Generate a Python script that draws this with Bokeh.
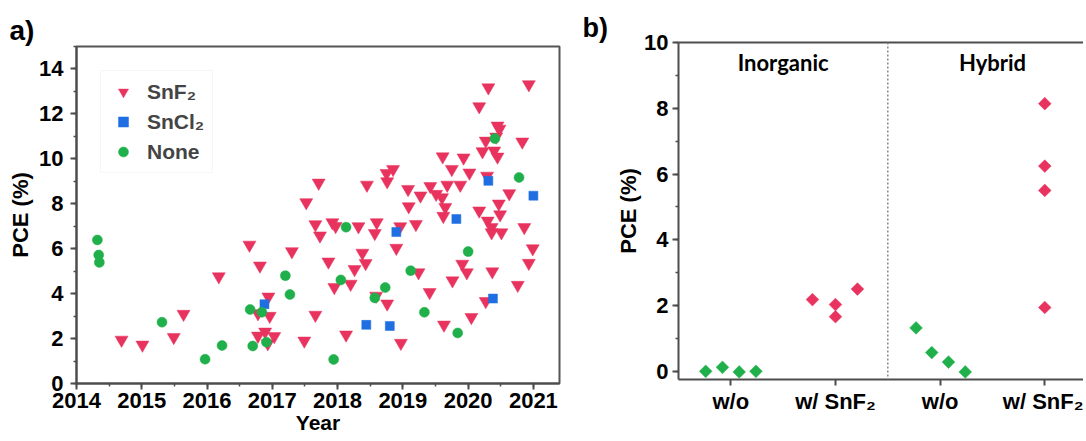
from bokeh.plotting import figure
from bokeh.layouts import row
from bokeh.models import (Range1d, SingleIntervalTicker, FixedTicker, LinearAxis,
                          Label, Span)
from bokeh.embed import file_html
from bokeh.resources import INLINE
import numpy as np

# ---------------- panel a data ----------------
snf2_year = [2014.69, 2015.01, 2015.49, 2015.64, 2016.18, 2016.65, 2016.78, 2016.78, 2016.81, 2016.89,
             2016.93, 2016.94, 2016.96, 2017.03, 2017.30, 2017.49, 2017.52, 2017.66, 2017.66, 2017.71,
             2017.73, 2017.86, 2017.92, 2017.95, 2017.97, 2018.13, 2018.20, 2018.26, 2018.32, 2018.38,
             2018.43, 2018.45, 2018.57, 2018.59, 2018.60, 2018.75, 2018.76, 2018.76, 2018.85, 2018.90,
             2018.96, 2018.97, 2019.08, 2019.09, 2019.20, 2019.24, 2019.27, 2019.41, 2019.42, 2019.51,
             2019.60, 2019.61, 2019.62, 2019.63, 2019.65, 2019.68, 2019.75, 2019.76, 2019.88, 2019.91,
             2019.93, 2019.98, 2020.02, 2020.05, 2020.17, 2020.17, 2020.22, 2020.27, 2020.27, 2020.29,
             2020.30, 2020.31, 2020.36, 2020.36, 2020.37, 2020.40, 2020.43, 2020.45, 2020.45, 2020.48,
             2020.47, 2020.49, 2020.51, 2020.63, 2020.76, 2020.83, 2020.86, 2020.93, 2020.93, 2020.99]
snf2_pce = [1.94, 1.72, 2.06, 3.09, 4.76, 6.17, 3.12, 2.12, 5.24, 2.30,
            1.78, 3.86, 3.00, 2.10, 5.88, 1.90, 8.06, 3.05, 7.08, 8.93,
            6.58, 5.42, 7.17, 4.28, 7.00, 2.17, 4.43, 5.08, 6.99, 5.81,
            5.35, 8.84, 6.69, 3.90, 7.17, 9.36, 8.99, 3.55, 9.54, 6.03,
            6.99, 1.80, 8.65, 7.88, 7.09, 4.94, 8.36, 4.06, 8.78, 8.43,
            8.28, 10.10, 7.45, 2.61, 7.85, 8.84, 9.54, 4.58, 8.84, 5.32,
            10.05, 4.94, 9.38, 2.95, 12.33, 7.69, 10.33, 3.66, 10.80, 9.24,
            7.24, 13.17, 6.95, 6.72, 4.98, 10.36, 10.98, 10.09, 11.47, 11.33,
            8.00, 7.52, 6.72, 8.46, 4.38, 10.76, 6.95, 5.36, 13.31, 6.01]

sncl2_year = [2016.88, 2018.44, 2018.80, 2018.90, 2019.82, 2020.31, 2020.38, 2021.00]
sncl2_pce = [3.53, 2.61, 2.56, 6.74, 7.32, 9.02, 3.78, 8.36]

none_year = [2014.32, 2014.34, 2014.35, 2015.31, 2015.97, 2016.23, 2016.66, 2016.70, 2016.84, 2016.91,
             2017.20, 2017.27, 2017.94, 2018.05, 2018.13, 2018.57, 2018.73, 2019.12, 2019.33, 2019.84,
             2020.00, 2020.41, 2020.78]
none_pce = [6.39, 5.72, 5.39, 2.73, 1.08, 1.69, 3.29, 1.67, 3.17, 1.84,
            4.80, 3.96, 1.07, 4.61, 6.96, 3.81, 4.27, 5.02, 3.17, 2.25,
            5.87, 10.90, 9.17]

# ---------------- panel b data ----------------
b_categories = ["w/o", "w/ SnF\u2082", "w/o", "w/ SnF\u2082"]
b_groups = ["Inorganic", "Hybrid"]
inorg_wo_pce = [0.00, 0.12, -0.02, 0.00]
inorg_wo_jitter = [-0.24, -0.08, 0.08, 0.24]
inorg_snf2_pce = [2.18, 2.03, 1.66, 2.50]
inorg_snf2_jitter = [-0.22, 0.0, 0.0, 0.21]
hyb_wo_pce = [1.32, 0.57, 0.28, -0.02]
hyb_wo_jitter = [-0.23, -0.08, 0.08, 0.24]
hyb_snf2_pce = [8.14, 6.24, 5.50, 1.94]
hyb_snf2_jitter = [0.0, 0.0, 0.0, 0.0]

RED = "#E8335E"
BLUE = "#1F6FE3"
GREEN = "#20B04B"
AX = "#4d4d4d"
FONT = "Liberation Sans"


def style_axis(ax, size="22px"):
    ax.axis_line_color = AX
    ax.axis_line_width = 2
    ax.major_tick_line_color = AX
    ax.major_tick_line_width = 2
    ax.minor_tick_line_color = AX
    ax.minor_tick_line_width = 1.5
    ax.major_tick_out = 6
    ax.major_tick_in = 0
    ax.minor_tick_out = 3
    ax.minor_tick_in = 0
    ax.major_label_text_font = FONT
    ax.major_label_text_font_style = "bold"
    ax.major_label_text_font_size = size
    ax.major_label_text_color = "black"
    ax.axis_label_text_font = FONT
    ax.axis_label_text_font_style = "bold"
    ax.axis_label_text_font_size = size
    ax.axis_label_text_color = "black"


def style_title(p, text, offset, size="28px", standoff=2):
    p.title.text = text
    p.title.align = "left"
    p.title.offset = offset
    p.title.standoff = standoff
    p.title.text_font = FONT
    p.title.text_font_style = "bold"
    p.title.text_font_size = size
    p.title.text_color = "black"


# ---------------- panel a ----------------
p1 = figure(width=580, height=441, output_backend="svg", toolbar_location=None,
            x_range=Range1d(2014, 2021.4), y_range=Range1d(0, 15),
            min_border_left=76, min_border_right=21, min_border_top=46, min_border_bottom=58)
p1.xgrid.visible = False
p1.ygrid.visible = False
p1.outline_line_color = "#555555"
p1.outline_line_width = 2
p1.outline_line_alpha = 1.0
p1.background_fill_color = "white"
p1.border_fill_color = "white"
style_title(p1, "a)", -67)

p1.xaxis.ticker = SingleIntervalTicker(interval=1, num_minor_ticks=2)
p1.yaxis.ticker = SingleIntervalTicker(interval=2, num_minor_ticks=2)
style_axis(p1.xaxis[0])
style_axis(p1.yaxis[0])
p1.xaxis.axis_label = "Year"
p1.yaxis.axis_label = "PCE (%)"
p1.xaxis.axis_label_text_font_size = "21px"
p1.xaxis.major_label_standoff = 3
p1.xaxis.axis_label_standoff = 0
p1.yaxis.major_label_standoff = 7
p1.yaxis.axis_label_standoff = 3

p1.scatter(snf2_year, snf2_pce, marker="inverted_triangle", size=13,
           fill_color=RED, line_color=RED, line_width=0.5, legend_label="SnF\u2082")
p1.scatter(sncl2_year, sncl2_pce, marker="square", size=9,
           fill_color=BLUE, line_color=BLUE, line_width=0.5, legend_label="SnCl\u2082")
p1.scatter(none_year, none_pce, marker="circle", size=10,
           fill_color=GREEN, line_color=GREEN, line_width=0.5, legend_label="None")

lg = p1.legend[0]
lg.location = "top_left"
lg.margin = 24
lg.padding = 8
lg.spacing = 5
lg.glyph_width = 28
lg.glyph_height = 25
lg.label_height = 25
lg.label_standoff = 10
lg.label_text_font = FONT
lg.label_text_font_style = "bold"
lg.label_text_font_size = "21px"
lg.border_line_color = "#eeeeee"
lg.border_line_width = 1
lg.background_fill_color = "white"
lg.background_fill_alpha = 1.0

# ---------------- panel b ----------------
p2 = figure(width=503, height=441, output_backend="svg", toolbar_location=None,
            x_range=Range1d(0.5, 4.37), y_range=Range1d(-0.25, 10),
            min_border_left=98, min_border_right=0, min_border_top=42, min_border_bottom=62)
p2.xgrid.visible = False
p2.ygrid.visible = False
p2.outline_line_color = None
p2.background_fill_color = "white"
p2.border_fill_color = "white"
style_title(p2, "b)", -96, size="27px", standoff=0)

cat_pos = [1, 2, 3, 4]
p2.xaxis.ticker = FixedTicker(ticks=cat_pos, minor_ticks=[])
p2.xaxis.major_label_overrides = {pos: lab for pos, lab in zip(cat_pos, b_categories)}
p2.yaxis.ticker = SingleIntervalTicker(interval=2, num_minor_ticks=2)
style_axis(p2.xaxis[0])
style_axis(p2.yaxis[0])
p2.xaxis.major_label_standoff = 3
p2.yaxis.axis_label = "PCE (%)"
p2.yaxis.major_label_standoff = 4
p2.yaxis.axis_label_standoff = 0

# top frame line of panel b (its right end runs off the page in the reference)
top_axis = LinearAxis(ticker=FixedTicker(ticks=[]), major_label_text_font_size="0px",
                      major_label_standoff=0,
                      axis_line_color=AX, axis_line_width=2,
                      major_tick_out=0, minor_tick_out=0)
p2.add_layout(top_axis, "above")

# dotted divider between Inorganic and Hybrid
p2.add_layout(Span(location=2.5, dimension="height", line_color="#888888",
                   line_dash="2 2", line_width=1.5))

series_b = [
    (cat_pos[0], inorg_wo_jitter, inorg_wo_pce, GREEN),
    (cat_pos[1], inorg_snf2_jitter, inorg_snf2_pce, RED),
    (cat_pos[2], hyb_wo_jitter, hyb_wo_pce, GREEN),
    (cat_pos[3], hyb_snf2_jitter, hyb_snf2_pce, RED),
]
for base, jit, vals, col in series_b:
    xs = [base + j for j in jit]
    p2.scatter(xs, vals, marker="square", angle=np.pi / 4, size=9,
               fill_color=col, line_color=col, line_width=0.5)

p2.add_layout(Label(x=1.5, y=9.38, text=b_groups[0], text_font="Lato", text_font_style="bold",
                    text_color="black", text_font_size="22px", text_align="center",
                    text_baseline="middle"))
p2.add_layout(Label(x=3.5, y=9.38, text=b_groups[1], text_font="Lato", text_font_style="bold",
                    text_color="black", text_font_size="22px", text_align="center",
                    text_baseline="middle"))

# keep each panel's frame where the reference has it (no cross-plot frame alignment)
for p in (p1, p2):
    try:
        p.frame_align = False
    except Exception:
        pass

layout = row(p1, p2)
open("out.html", "w").write(file_html(layout, INLINE))
